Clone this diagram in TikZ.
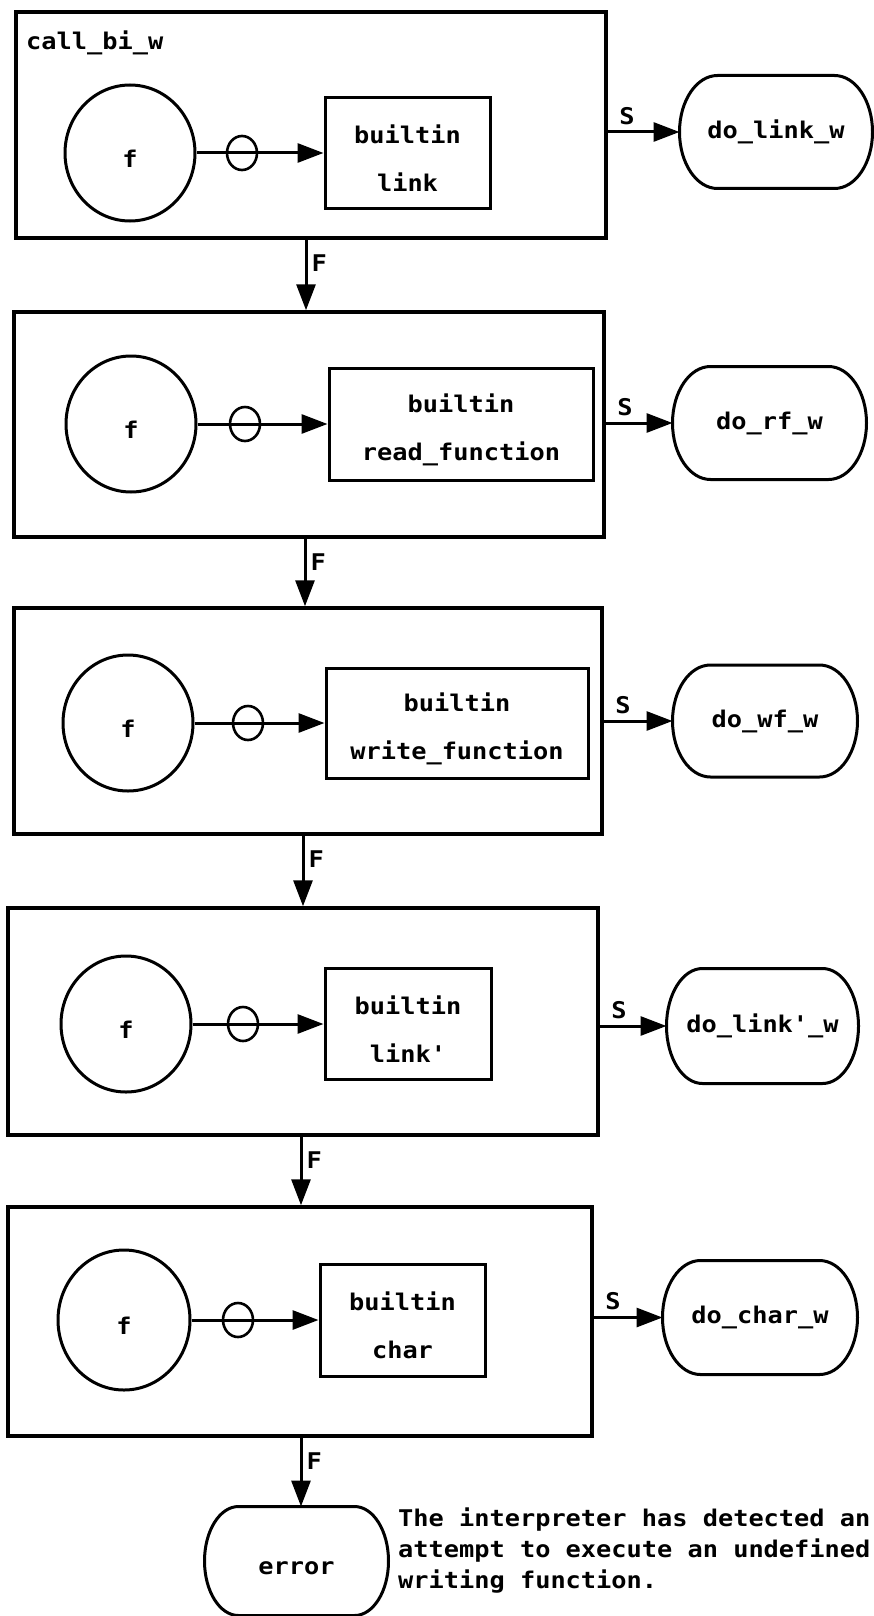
\documentclass[tikz,border=0pt]{standalone}
\usepackage{fontspec}
\newfontfamily\dgfont[FakeStretch=1.1,Ligatures=TeXOff]{DejaVu Sans Mono}
\usetikzlibrary{arrows.meta,shapes.geometric}
% stadium outline with half-ellipse ends around a named node: #1 node, #2 end x-radius, #3 half height
\newcommand\stadiumline[3]{%
  \draw[line width=3pt] ([xshift=#2]#1.north west) -- ([xshift=-#2]#1.north east)
    arc[start angle=90, end angle=-90, x radius=#2pt, y radius=#3pt]
    -- ([xshift=#2]#1.south west)
    arc[start angle=270, end angle=90, x radius=#2pt, y radius=#3pt] -- cycle;}
\begin{document}
\begin{tikzpicture}[x=1pt,y=-1pt,
  every node/.style={font=\dgfont\bfseries\fontsize{23}{48}\selectfont},
  outer/.style={draw, line width=3.5pt, inner sep=0pt},
  fcirc/.style={draw, ellipse, line width=3pt, minimum width=130pt, minimum height=136pt, inner sep=0pt, text height=29.5pt, text depth=0pt},
  ocirc/.style={draw, ellipse, line width=2.6pt, minimum width=30pt, minimum height=34pt, inner sep=0pt},
  bbox/.style={draw, line width=3pt, align=center, inner sep=0pt},
  term/.style={inner sep=0pt, outer sep=1.5pt},
  arr/.style={line width=3pt, -{Triangle[length=26pt,width=19pt]}},
  lab/.style={inner sep=0pt}]
\useasboundingbox (0,0) rectangle (874,1616);

% ---------- block 1
\node[outer, minimum width=590pt, minimum height=226pt] (b1) at (311,125) {};
\node[lab, anchor=base west] (name) at (26,50) {call\_bi\_w};
\node[fcirc] (f1) at (130,153) {f};
\node[bbox, minimum width=165pt, minimum height=111pt] (x1) at (407.5,153) {\rule{0pt}{29.5pt}builtin\\link};
\draw[arr] (f1) -- (x1);
\node[ocirc] (o1) at (242,153) {};
\node[term, minimum width=190pt, minimum height=110pt] (t1) at (776,132) {do\_link\_w};
\stadiumline{t1}{38}{56.5}
\draw[arr] (t1.west -| b1.east) -- (t1) node[lab, pos=0, anchor=south west, xshift=10pt, yshift=6pt] (s1) {S};

% ---------- block 2
\node[outer, minimum width=590pt, minimum height=225pt] (b2) at (309,424.5) {};
\node[fcirc] (f2) at (131,424) {f};
\node[bbox, minimum width=264pt, minimum height=112pt] (x2) at (461,424) {\rule{0pt}{29.5pt}builtin\\read\_function};
\draw[arr] (f2) -- (x2);
\node[ocirc] (o2) at (245,424) {};
\node[term, minimum width=191pt, minimum height=110pt] (t2) at (769.5,423) {do\_rf\_w};
\stadiumline{t2}{38}{56.5}
\draw[arr] (t2.west -| b2.east) -- (t2) node[lab, pos=0, anchor=south west, xshift=10pt, yshift=6pt] (s2) {S};

% ---------- block 3
\node[outer, minimum width=588pt, minimum height=226pt] (b3) at (308,721) {};
\node[fcirc] (f3) at (128,723) {f};
\node[bbox, minimum width=262pt, minimum height=110pt] (x3) at (457,723) {\rule{0pt}{29.5pt}builtin\\write\_function};
\draw[arr] (f3) -- (x3);
\node[ocirc] (o3) at (248,723) {};
\node[term, minimum width=182pt, minimum height=109pt] (t3) at (765,721) {do\_wf\_w};
\stadiumline{t3}{38}{56}
\draw[arr] (t3.west -| b3.east) -- (t3) node[lab, pos=0, anchor=south west, xshift=10pt, yshift=6pt] (s3) {S};

% ---------- block 4
\node[outer, minimum width=590pt, minimum height=227pt] (b4) at (303,1021.5) {};
\node[fcirc] (f4) at (126,1024) {f};
\node[bbox, minimum width=166pt, minimum height=111pt] (x4) at (408,1024) {\rule{0pt}{29.5pt}builtin\\link'};
\draw[arr] (f4) -- (x4);
\node[ocirc] (o4) at (243,1024) {};
\node[term, minimum width=189pt, minimum height=112pt] (t4) at (762.5,1026) {do\_link'\_w};
\stadiumline{t4}{36}{57.5}
\draw[arr] (t4.west -| b4.east) -- (t4) node[lab, pos=0, anchor=south west, xshift=10pt, yshift=6pt] (s4) {S};

% ---------- block 5
\node[outer, minimum width=584pt, minimum height=229pt] (b5) at (300,1321.5) {};
\node[fcirc, minimum width=132pt, minimum height=140pt] (f5) at (124,1320) {f};
\node[bbox, minimum width=165pt, minimum height=112pt] (x5) at (402.5,1320) {\rule{0pt}{29.5pt}builtin\\char};
\draw[arr] (f5) -- (x5);
\node[ocirc] (o5) at (238,1320) {};
\node[term, minimum width=192pt, minimum height=111pt] (t5) at (760,1317.5) {do\_char\_w};
\stadiumline{t5}{38}{57}
\draw[arr] (t5.west -| b5.east) -- (t5) node[lab, pos=0, anchor=south west, xshift=10pt, yshift=6pt] (s5) {S};

% ---------- error
\node[term, minimum width=181pt, minimum height=106pt, text height=26pt, text depth=0pt] (err) at (296.5,1561) {error};
\stadiumline{err}{34}{54.5}
\node[lab, anchor=north west, align=left, font=\dgfont\bfseries\fontsize{23}{31}\selectfont] (note) at (398,1508) {The interpreter has detected an\\attempt to execute an undefined\\writing function.};

% ---------- F connectors
\coordinate (fx1) at (306,0);
\coordinate (fx2) at (305,0);
\coordinate (fx3) at (303,0);
\coordinate (fx4) at (301,0);
\coordinate (fx5) at (301,0);
\draw[arr] (b1.south -| fx1) -- (b2.north -| fx1) node[lab, pos=0, anchor=north west, xshift=4pt, yshift=-13pt] (fl1) {F};
\draw[arr] (b2.south -| fx2) -- (b3.north -| fx2) node[lab, pos=0, anchor=north west, xshift=4pt, yshift=-13pt] (fl2) {F};
\draw[arr] (b3.south -| fx3) -- (b4.north -| fx3) node[lab, pos=0, anchor=north west, xshift=4pt, yshift=-13pt] (fl3) {F};
\draw[arr] (b4.south -| fx4) -- (b5.north -| fx4) node[lab, pos=0, anchor=north west, xshift=4pt, yshift=-13pt] (fl4) {F};
\draw[arr] (b5.south -| fx5) -- (err.north -| fx5) node[lab, pos=0, anchor=north west, xshift=4pt, yshift=-13pt] (fl5) {F};
\end{tikzpicture}
\end{document}
